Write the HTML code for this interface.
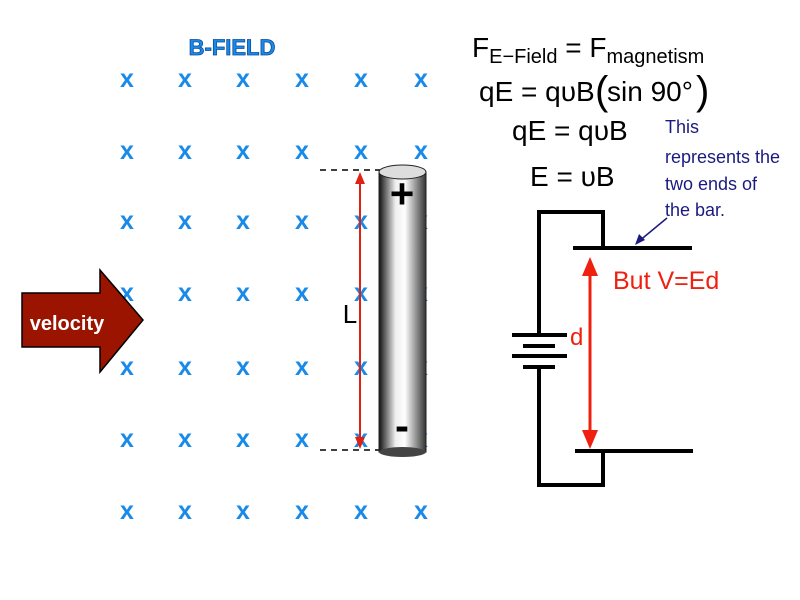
<!DOCTYPE html>
<html><head><style>body{margin:0;background:#fff}svg{display:block}</style></head><body>
<svg width="800" height="600" xmlns="http://www.w3.org/2000/svg" font-family="Liberation Sans, sans-serif">
<defs>
<linearGradient id="cyl" x1="0" x2="1" y1="0" y2="0">
<stop offset="0" stop-color="#111"/><stop offset="0.35" stop-color="#eee"/><stop offset="0.55" stop-color="#fff"/><stop offset="1" stop-color="#333"/>
</linearGradient>
</defs>
<text x="232" y="55" font-size="22" font-weight="bold" fill="#1a8ae8" stroke="#0a4a9a" stroke-width="0.8" text-anchor="middle" font-family="Liberation Sans Narrow, Liberation Sans, sans-serif">B-FIELD</text>
<g fill="#1a8ae8" font-size="25" font-weight="bold" text-anchor="middle">
<g id="row">
<text x="127" y="87">x</text><text x="185" y="87">x</text><text x="243" y="87">x</text><text x="302" y="87">x</text><text x="361" y="87">x</text><text x="421" y="87">x</text>
</g>
<use href="#row" y="72"/><use href="#row" y="142"/><use href="#row" y="214"/><use href="#row" y="288"/><use href="#row" y="360"/><use href="#row" y="432"/>
</g>
<polygon points="22,293 100,293 100,270 143,320 100,372 100,347 22,347" fill="#9a1400" stroke="#000" stroke-width="1.5"/>
<text x="67" y="330" font-size="20" font-weight="bold" fill="#fff" text-anchor="middle" font-family="Liberation Sans Narrow, Liberation Sans, sans-serif">velocity</text>
<line x1="320" y1="170" x2="380" y2="170" stroke="#000" stroke-width="1.5" stroke-dasharray="6,5"/>
<line x1="320" y1="450" x2="380" y2="450" stroke="#000" stroke-width="1.5" stroke-dasharray="6,5"/>
<line x1="360" y1="178" x2="360" y2="443" stroke="#e02010" stroke-width="2"/>
<polygon points="360,172 355,184 365,184" fill="#e02010"/>
<polygon points="360,449 355,437 365,437" fill="#e02010"/>
<text x="350" y="323" font-size="26" text-anchor="middle">L</text>
<rect x="379" y="172" width="47" height="280" fill="url(#cyl)" stroke="#222" stroke-width="1"/>
<ellipse cx="402.5" cy="452" rx="23.5" ry="5" fill="#444"/>
<ellipse cx="402.5" cy="172" rx="23.5" ry="7" fill="#ddd" stroke="#222" stroke-width="1"/>
<text x="402" y="208" font-size="42" font-weight="bold" text-anchor="middle">+</text>
<text x="402" y="440" font-size="42" font-weight="bold" text-anchor="middle">-</text>
<text x="472" y="57" font-size="28">F<tspan font-size="20" dy="6">E−Field</tspan><tspan dy="-6" font-size="28"> = F</tspan><tspan font-size="20" dy="6">magnetism</tspan></text>
<text x="479" y="101" font-size="28">qE = qυB</text>
<text x="607" y="101" font-size="28">sin 90°</text>
<text x="595" y="104" font-size="40" font-weight="100">(</text>
<text x="696" y="104" font-size="40" font-weight="100">)</text>
<text x="512" y="140" font-size="28">qE = qυB</text>
<text x="530" y="186" font-size="28">E = υB</text>
<g fill="#1a1a80" font-size="18" font-family="Liberation Sans Narrow, Liberation Sans, sans-serif">
<text x="665" y="133">This</text><text x="665" y="163">represents the</text><text x="665" y="190">two ends of</text><text x="665" y="216">the bar.</text>
</g>
<line x1="667" y1="218" x2="638" y2="242" stroke="#1a1a80" stroke-width="1.5"/>
<polygon points="635,245 639,234 645,240" fill="#1a1a80"/>
<g stroke="#000" stroke-width="4" fill="none">
<polyline points="539,335 539,212 603,212 603,248"/>
<line x1="573" y1="248" x2="692" y2="248"/>
<line x1="575" y1="451" x2="693" y2="451"/>
<polyline points="603,451 603,485 539,485 539,367"/>
<line x1="512" y1="335" x2="567" y2="335"/>
<line x1="523" y1="346" x2="555" y2="346"/>
<line x1="512" y1="356" x2="567" y2="356"/>
<line x1="523" y1="367" x2="555" y2="367"/>
</g>
<line x1="590" y1="270" x2="590" y2="436" stroke="#f02010" stroke-width="3"/>
<polygon points="590,257 582,276 598,276" fill="#f02010"/>
<polygon points="590,449 582,430 598,430" fill="#f02010"/>
<text x="570" y="345" font-size="24" fill="#f02010">d</text>
<text x="613" y="289" font-size="25" fill="#f02010">But V=Ed</text>
</svg>
</body></html>
